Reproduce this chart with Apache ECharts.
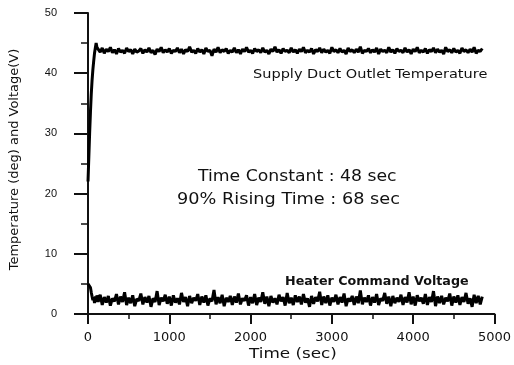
<!DOCTYPE html>
<html>
<head>
<meta charset="utf-8">
<script src="https://cdn.jsdelivr.net/npm/echarts@6/dist/echarts.min.js"></script>
<style>html,body{margin:0;padding:0;background:#fff}#c{width:514px;height:365px}</style>
</head>
<body>
<div id="c"></div>
<script>
// ---- data ----
const xTicks = [0, 1000, 2000, 3000, 4000, 5000];
const yTicks = [0, 10, 20, 30, 40, 50];

// transient start-up (sec)
const transientTimes = [0, 10, 20, 30, 40, 50, 60, 70, 80, 90, 100, 110];
const tempTransient = [22.0, 26.0, 30.0, 33.5, 36.5, 38.8, 40.6, 42.0, 43.3, 44.2, 45.0, 44.3];
const heaterTransient = [5.0, 5.0, 4.8, 4.4, 3.6, 2.9, 2.3, 2.8, 1.8, 2.9, 2.0, 3.1];

// steady part: samples every 25 s starting at 125 s
const steadyStart = 125;
const steadyStep = 25;
const tempSteady = [
44.6,43.5,44.2,43.3,44.0,43.6,44.3,43.4,43.9,43.2,
44.1,43.5,43.8,43.3,44.2,43.6,43.9,43.2,44.0,43.5,
43.7,44.1,43.3,43.9,43.5,44.2,43.4,43.8,43.1,44.0,
43.6,44.3,43.4,43.9,43.5,44.1,43.3,43.8,43.6,44.2,
43.4,44.0,43.2,43.9,43.6,44.4,43.5,43.8,43.3,44.1,
43.5,43.9,43.2,44.2,43.6,43.8,42.9,44.0,43.5,44.3,
43.4,43.9,43.6,44.1,43.3,43.8,43.5,44.2,43.4,43.9,
43.2,44.0,43.6,44.3,43.5,43.8,43.3,44.1,43.6,43.9,
43.4,44.2,43.5,43.8,43.2,44.0,43.6,44.4,43.5,43.9,
43.3,44.1,43.6,43.8,43.4,44.2,43.5,43.9,43.3,44.0,
43.6,44.3,43.4,43.8,43.5,44.1,43.2,43.9,43.6,44.2,
43.4,44.0,43.5,43.8,43.3,44.3,43.6,43.9,43.4,44.1,
43.5,43.8,43.2,44.2,43.6,43.9,43.4,44.0,43.5,44.4,
43.3,43.8,43.6,44.1,43.4,43.9,43.5,44.2,43.2,44.0,
43.6,43.8,43.4,44.3,43.5,43.9,43.3,44.1,43.6,43.8,
43.4,44.2,43.5,43.9,43.2,44.0,43.6,44.3,43.4,43.8,
43.5,44.1,43.3,43.9,43.6,44.2,43.4,44.0,43.5,43.8,
43.2,44.3,43.6,43.9,43.4,44.1,43.5,43.8,43.3,44.2,
43.6,43.9,43.4,44.0,43.5,44.3,43.3,43.8,43.6,44.1
];
const heaterSteady = [
2.0,3.2,1.5,2.8,1.9,3.0,1.4,2.6,2.1,3.3,
1.6,2.9,2.0,3.6,1.5,2.7,1.8,3.1,1.3,2.5,
2.2,3.4,1.6,2.8,1.9,3.0,1.2,2.6,2.0,3.8,
1.5,2.7,2.1,3.2,1.7,2.9,1.4,3.1,1.9,2.6,
1.6,3.5,2.0,2.8,1.3,3.0,1.8,2.7,2.2,3.3,
1.5,2.9,1.9,3.1,1.4,2.6,2.1,4.0,1.6,2.8,
1.8,3.2,1.3,2.7,2.0,3.0,1.5,2.9,1.9,3.4,
1.6,2.6,2.2,3.1,1.4,2.8,1.8,3.3,1.5,2.7,
2.0,3.6,1.7,2.9,1.3,3.0,1.9,2.6,1.6,3.2,
2.1,2.8,1.4,3.5,1.8,2.7,1.5,3.1,2.0,2.9,
1.6,3.3,1.9,2.6,1.2,3.0,1.7,2.8,2.1,3.7,
1.5,2.9,1.8,3.1,1.4,2.7,2.0,3.2,1.6,2.8,
1.9,3.4,1.3,2.6,2.1,3.0,1.5,2.9,1.8,3.9,
1.6,2.7,2.0,3.1,1.4,2.8,1.9,3.3,1.5,2.6,
2.2,3.5,1.7,2.9,1.3,3.0,1.8,2.7,2.0,3.2,
1.5,2.8,1.9,3.6,1.6,2.9,1.4,3.1,2.1,2.7,
1.7,3.3,1.5,2.8,2.0,3.8,1.3,2.9,1.8,3.0,
1.6,2.7,2.1,3.4,1.4,2.9,1.9,3.1,1.5,2.8,
2.0,3.5,1.7,2.6,1.2,3.2,1.8,3.0,1.6,2.9
];

const seriesNames = ['Supply Duct Outlet Temperature', 'Heater Command Voltage'];
const xName = 'Time (sec)';
const yName = 'Temperature (deg) and Voltage(V)';
const noteLines = ['Time Constant : 48 sec', '90% Rising Time : 68 sec'];

// ---- build ----
function build(trans, steady) {
  const out = transientTimes.map((t, i) => [t, trans[i]]);
  steady.forEach((v, i) => out.push([steadyStart + i * steadyStep, v]));
  return out;
}
const tempData = build(tempTransient, tempSteady);
const heaterData = build(heaterTransient, heaterSteady);

const FONT = '"DejaVu Sans", sans-serif';
const chart = echarts.init(document.getElementById('c'), null, {renderer: 'canvas'});
const lineCol = '#111';
function txt(x, y, s, font, sx) {
  return {type: 'text', x: x, y: y, scaleX: sx, z: 10,
    style: {text: s, font: font, fill: '#111', textVerticalAlign: 'middle'}};
}
chart.setOption({
  animation: false,
  backgroundColor: '#fff',
  grid: {left: 88, right: 11, top: 13, bottom: 51, containLabel: false},
  xAxis: {
    type: 'value', min: xTicks[0], max: xTicks[xTicks.length - 1], interval: 1000,
    axisLine: {show: true, onZero: false, lineStyle: {color: lineCol, width: 2}},
    axisTick: {show: true, length: 10, lineStyle: {color: lineCol, width: 2}},
    minorTick: {show: true, splitNumber: 2, length: 5, lineStyle: {color: lineCol, width: 1.5}},
    splitLine: {show: false}, minorSplitLine: {show: false},
    axisLabel: {fontFamily: FONT, fontSize: 13, color: '#111', margin: 17,
      formatter: v => String(v)}
  },
  yAxis: {
    type: 'value', min: yTicks[0], max: yTicks[yTicks.length - 1], interval: 10,
    name: yName, nameLocation: 'middle', nameGap: 67, nameRotate: 90,
    nameTextStyle: {fontFamily: FONT, fontSize: 13, color: '#111', padding: [0, 0, 0, 8]},
    axisLine: {show: true, onZero: false, lineStyle: {color: lineCol, width: 2}},
    axisTick: {show: true, length: 14, lineStyle: {color: lineCol, width: 2}},
    minorTick: {show: true, splitNumber: 2, length: 7, lineStyle: {color: lineCol, width: 1.5}},
    splitLine: {show: false}, minorSplitLine: {show: false},
    axisLabel: {fontFamily: '"Liberation Sans", sans-serif', fontSize: 11, color: '#111', margin: 31,
      formatter: v => String(v)}
  },
  series: [
    {name: seriesNames[0], type: 'line', data: tempData, showSymbol: false,
     lineStyle: {color: '#000', width: 3}, z: 3},
    {name: seriesNames[1], type: 'line', data: heaterData, showSymbol: false,
     lineStyle: {color: '#000', width: 3}, z: 3}
  ],
  graphic: [
    txt(253, 75, seriesNames[0], '12px ' + FONT, 1.21),
    txt(285, 282, seriesNames[1], 'bold 12px ' + FONT, 1.06),
    txt(198, 177, noteLines[0], '15px ' + FONT, 1.15),
    txt(177, 200, noteLines[1], '15px ' + FONT, 1.18),
    txt(249, 354, xName, '14px ' + FONT, 1.2)
  ]
});
</script>
</body>
</html>
